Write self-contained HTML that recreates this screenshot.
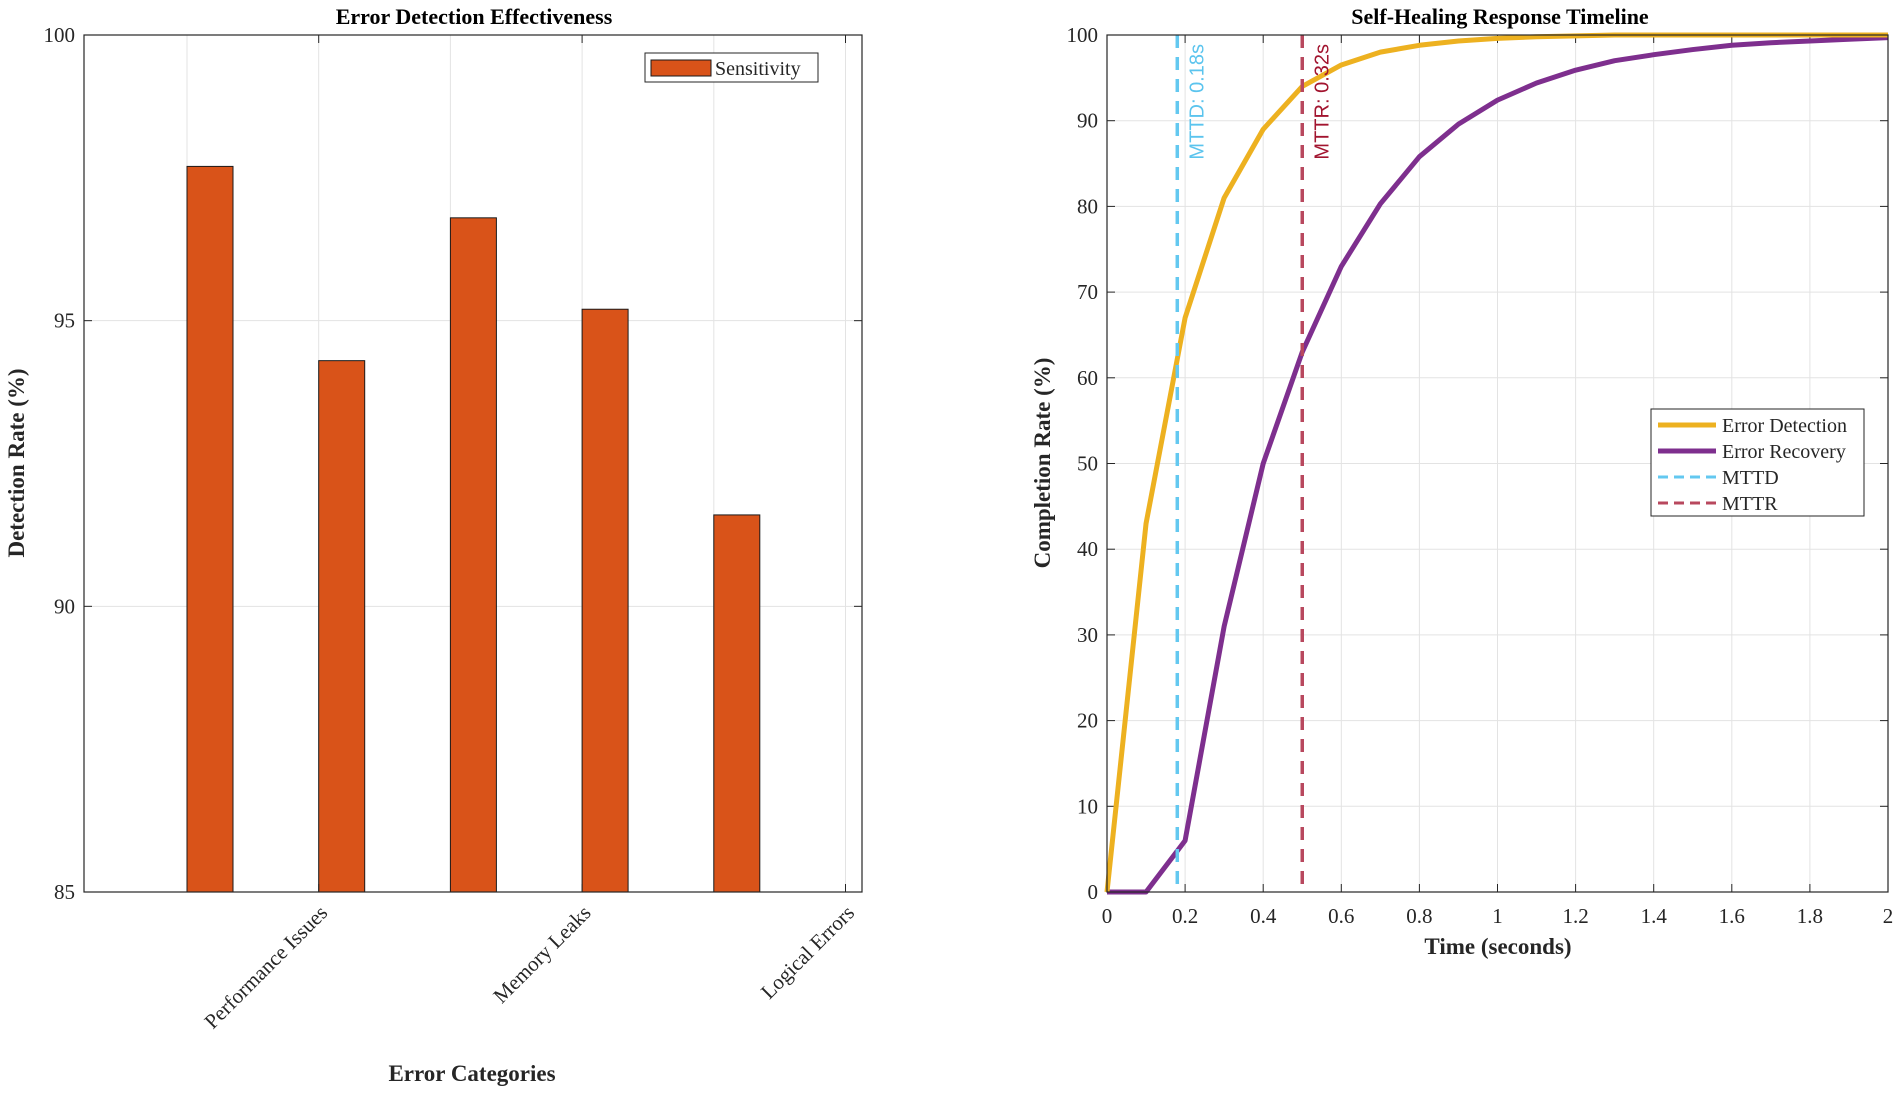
<!DOCTYPE html>
<html><head><meta charset="utf-8"><style>
html,body{margin:0;padding:0;background:#fff;}
svg{display:block;font-family:"Liberation Serif",serif;}
</style></head><body>
<svg id="chart" width="1902" height="1094" viewBox="0 0 1902 1094" xmlns="http://www.w3.org/2000/svg">
<g id="left"></g>
<g id="right"></g>
</svg>
<script>
const barCategories = ["Cat 1","Performance Issues","Cat 3","Memory Leaks","Cat 5"];
const tickCategories = ["Performance Issues","Memory Leaks","Logical Errors"];
const sensitivityValues = [97.7, 94.3, 96.8, 95.2, 91.6];
const leftYTicks = [85, 90, 95, 100];

const timeValues = [0,0.1,0.2,0.3,0.4,0.5,0.6,0.7,0.8,0.9,1.0,1.1,1.2,1.3,1.4,1.5,1.6,1.7,1.8,1.9,2.0];
const detectionValues = [0,43,67,81,89,94,96.5,98,98.8,99.3,99.6,99.8,99.9,100,100,100,100,100,100,100,100];
const recoveryValues = [0,0,6,31,50,63,73,80.3,85.8,89.6,92.4,94.4,95.9,97,97.7,98.3,98.8,99.1,99.3,99.5,99.7];
const mttdValue = 0.18;
const mttrValue = 0.5;
const rightXTicks = [0,0.2,0.4,0.6,0.8,1,1.2,1.4,1.6,1.8,2];
const rightYTicks = [0,10,20,30,40,50,60,70,80,90,100];

const NS = "http://www.w3.org/2000/svg";
function mk(parent, tag, attrs, text){
  const e = document.createElementNS(NS, tag);
  for (const k in attrs) e.setAttribute(k, attrs[k]);
  if (text !== undefined) e.textContent = text;
  parent.appendChild(e);
  return e;
}

// ---------- LEFT ----------
const L = document.getElementById('left');
const lx0 = 84, lx1 = 862, ly0 = 35, ly1 = 892;
const yL = v => ly1 - (v - 85) / 15 * (ly1 - ly0);
const step = 131.7, half = 23;
const xL = i => 210 + i * step;
let t;
t = mk(L, 'rect', {x:lx0, y:ly0, width:lx1-lx0, height:ly1-ly0, fill:'#fff'});


for (let i = 0; i <= sensitivityValues.length; i++) {
  const gx = xL(i) - half;
  t = mk(L, 'line', {x1:gx, x2:gx, y1:ly0, y2:ly1, stroke:'#e3e3e3', 'stroke-width':1});
  
  
}
leftYTicks.forEach(v => {
  const y = yL(v);
  t = mk(L, 'line', {x1:lx0, x2:lx1, y1:y, y2:y, stroke:'#e3e3e3', 'stroke-width':1});
  
  
  mk(L, 'line', {x1:lx0, x2:lx0+8, y1:y, y2:y, stroke:'#262626'});
  mk(L, 'line', {x1:lx1-8, x2:lx1, y1:y, y2:y, stroke:'#262626'});
  t = mk(L, 'text', {x:75, y:y+7, 'text-anchor':'end', 'font-size':21, fill:'#262626'}, String(v));
  
  
});
sensitivityValues.forEach((v, i) => {
  const cx = xL(i);
  t = mk(L, 'rect', {x:cx-half, y:yL(v), width:2*half, height:ly1-yL(v), fill:'#D95319', stroke:'#1a1a1a', 'stroke-width':1});
  
  
});
tickCategories.forEach((c, j) => {
  const gx = xL(2*j + 1) - half;
  mk(L, 'line', {x1:gx, x2:gx, y1:ly1, y2:ly1-8, stroke:'#262626'});
  mk(L, 'line', {x1:gx, x2:gx, y1:ly0, y2:ly0+8, stroke:'#262626'});
  t = mk(L, 'text', {x:gx+10, y:ly1+22, 'text-anchor':'end', 'font-size':21, fill:'#262626', transform:`rotate(-45 ${gx+10} ${ly1+22})`}, c);
  
  
});
t = mk(L, 'rect', {x:lx0, y:ly0, width:lx1-lx0, height:ly1-ly0, fill:'none', stroke:'#262626', 'stroke-width':1.2});


t = mk(L, 'text', {x:474, y:24, 'text-anchor':'middle', 'font-size':22, 'font-weight':'bold', fill:'#000'}, 'Error Detection Effectiveness');


t = mk(L, 'text', {x:472, y:1081, 'text-anchor':'middle', 'font-size':23, 'font-weight':'bold', fill:'#262626'}, 'Error Categories');


t = mk(L, 'text', {x:24, y:463, 'text-anchor':'middle', 'font-size':23, 'font-weight':'bold', fill:'#262626', transform:'rotate(-90 24 463)'}, 'Detection Rate (%)');


const lg = mk(L, 'g', {});


mk(lg, 'rect', {x:645, y:53, width:173, height:29, fill:'#fff', stroke:'#262626', 'stroke-width':1});
mk(lg, 'rect', {x:651, y:60, width:60, height:16, fill:'#D95319', stroke:'#1a1a1a'});
t = mk(lg, 'text', {x:715, y:75, 'font-size':20, fill:'#262626'}, 'Sensitivity');



// ---------- RIGHT ----------
const R = document.getElementById('right');
const rx0 = 1107, rx1 = 1888, ry0 = 35, ry1 = 892;
const xR = v => rx0 + v / 2 * (rx1 - rx0);
const yR = v => ry1 - v / 100 * (ry1 - ry0);
rightXTicks.forEach(v => {
  const x = xR(v);
  t = mk(R, 'line', {x1:x, x2:x, y1:ry0, y2:ry1, stroke:'#e3e3e3'});
  
  
  mk(R, 'line', {x1:x, x2:x, y1:ry1, y2:ry1-8, stroke:'#262626'});
  mk(R, 'line', {x1:x, x2:x, y1:ry0, y2:ry0+8, stroke:'#262626'});
  t = mk(R, 'text', {x:x, y:923, 'text-anchor':'middle', 'font-size':21, fill:'#262626'}, String(v));
  
  
});
rightYTicks.forEach(v => {
  const y = yR(v);
  t = mk(R, 'line', {x1:rx0, x2:rx1, y1:y, y2:y, stroke:'#e3e3e3'});
  
  
  mk(R, 'line', {x1:rx0, x2:rx0+8, y1:y, y2:y, stroke:'#262626'});
  mk(R, 'line', {x1:rx1-8, x2:rx1, y1:y, y2:y, stroke:'#262626'});
  t = mk(R, 'text', {x:1098, y:y+7, 'text-anchor':'end', 'font-size':21, fill:'#262626'}, String(v));
  
  
});
function pts(vals){ return timeValues.map((tv,i)=>`${xR(tv)},${yR(vals[i])}`).join(' '); }
t = mk(R, 'polyline', {points:pts(recoveryValues), fill:'none', stroke:'#7E2F8E', 'stroke-width':5, 'stroke-linejoin':'round'});


t = mk(R, 'polyline', {points:pts(detectionValues), fill:'none', stroke:'#EDB120', 'stroke-width':5, 'stroke-linejoin':'round'});


t = mk(R, 'line', {x1:xR(mttdValue), x2:xR(mttdValue), y1:ry0, y2:ry1, stroke:'#63C8F0', 'stroke-width':3.5, 'stroke-dasharray':'13 9'});


t = mk(R, 'line', {x1:xR(mttrValue), x2:xR(mttrValue), y1:ry0, y2:ry1, stroke:'#B8485E', 'stroke-width':3.5, 'stroke-dasharray':'13 9'});


let lx = xR(mttdValue) + 26;
t = mk(R, 'text', {x:lx, y:44, 'text-anchor':'end', 'font-size':20, fill:'#5BC4EE', 'font-family':'Liberation Sans, sans-serif', transform:`rotate(-90 ${lx} 44)`}, 'MTTD: 0.18s');


lx = xR(mttrValue) + 26;
t = mk(R, 'text', {x:lx, y:44, 'text-anchor':'end', 'font-size':20, fill:'#A2142F', 'font-family':'Liberation Sans, sans-serif', transform:`rotate(-90 ${lx} 44)`}, 'MTTR: 0.32s');


t = mk(R, 'rect', {x:rx0, y:ry0, width:rx1-rx0, height:ry1-ry0, fill:'none', stroke:'#262626', 'stroke-width':1.2});


t = mk(R, 'text', {x:1500, y:24, 'text-anchor':'middle', 'font-size':22, 'font-weight':'bold', fill:'#000'}, 'Self-Healing Response Timeline');


t = mk(R, 'text', {x:1498, y:954, 'text-anchor':'middle', 'font-size':23, 'font-weight':'bold', fill:'#262626'}, 'Time (seconds)');


t = mk(R, 'text', {x:1050, y:463, 'text-anchor':'middle', 'font-size':23, 'font-weight':'bold', fill:'#262626', transform:'rotate(-90 1050 463)'}, 'Completion Rate (%)');


const rg = mk(R, 'g', {});


mk(rg, 'rect', {x:1651, y:409, width:213, height:107, fill:'#fff', stroke:'#262626', 'stroke-width':1});
const legendItems = [
  ['Error Detection','#EDB120',5,null,'legend-entry-error-detection'],
  ['Error Recovery','#7E2F8E',5,null,'legend-entry-error-recovery'],
  ['MTTD','#63C8F0',3,'10 6','legend-entry-mttd'],
  ['MTTR','#B8485E',3,'10 6','legend-entry-mttr']
];
legendItems.forEach((it, i) => {
  const y = 425 + i * 26;
  const a = {x1:1658, x2:1716, y1:y, y2:y, stroke:it[1], 'stroke-width':it[2]};
  if (it[3]) a['stroke-dasharray'] = it[3];
  mk(rg, 'line', a);
  t = mk(rg, 'text', {x:1722, y:y+7, 'font-size':20, fill:'#262626'}, it[0]);
  
  
});
</script>
</body></html>
